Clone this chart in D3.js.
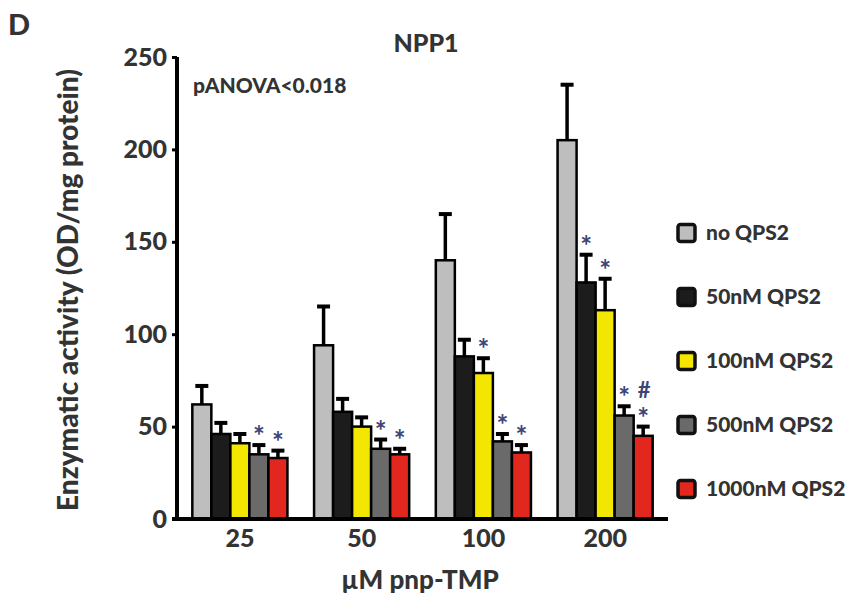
<!DOCTYPE html>
<html>
<head>
<meta charset="utf-8">
<script src="https://cdn.jsdelivr.net/npm/d3@7"></script>
<style>
  body { margin: 0; background: #fff; }
  svg text { font-family: Lato, "Open Sans", sans-serif; font-weight: 900; fill: #333; }
</style>
</head>
<body>
<svg id="chart" width="853" height="602"></svg>
<script>
// Substrate concentrations (µM pnp-TMP)
const groups = ["25", "50", "100", "200"];
// QPS2 treatments
const series = ["no QPS2", "50nM QPS2", "100nM QPS2", "500nM QPS2", "1000nM QPS2"];
const colors = ["#bebebe", "#1c1c1c", "#f3e600", "#6a6a6a", "#e2271f"];

// Mean enzymatic activity, one array per treatment (order follows groups)
const noQPS2     = [62, 94, 140, 205];
const qps50      = [46, 58, 88, 128];
const qps100     = [41, 50, 79, 113];
const qps500     = [35, 38, 42, 56];
const qps1000    = [33, 35, 36, 45];
// Upper error (SEM) for each bar
const errNo      = [10, 21, 25, 30];
const err50      = [6, 7, 9, 15];
const err100     = [5, 5, 8, 17];
const err500     = [5, 5, 4, 5];
const err1000    = [4, 3, 4, 5];

const means = [noQPS2, qps50, qps100, qps500, qps1000];
const errs  = [errNo, err50, err100, err500, err1000];

// Significance marks: [group index, series index, symbols from bottom up]
const marks = [
  [0, 3, ["*"]], [0, 4, ["*"]],
  [1, 3, ["*"]], [1, 4, ["*"]],
  [2, 2, ["*"]], [2, 3, ["*"]], [2, 4, ["*"]],
  [3, 1, ["*"]], [3, 2, ["*"]], [3, 3, ["*"]], [3, 4, ["*", "#"]]
];

const yTicks = [0, 50, 100, 150, 200, 250];

const svg = d3.select("#chart");

const y = d3.scaleLinear().domain([0, 250]).range([519, 57]);
const x0 = d3.scaleBand().domain(groups).range([179, 666]).padding(0);
const x1 = d3.scaleBand().domain(series).range([0, x0.bandwidth()])
  .paddingInner(0).paddingOuter(0.7);

const data = [];
groups.forEach((g, gi) => series.forEach((s, si) => {
  data.push({ g, s, gi, si, v: means[si][gi], e: errs[si][gi] });
}));

// Error bars (drawn first so bars cover the stem base)
const eb = svg.append("g");
data.forEach(d => {
  const cx = x0(d.g) + x1(d.s) + x1.bandwidth() / 2;
  eb.append("line").attr("x1", cx).attr("x2", cx)
    .attr("y1", y(d.v)).attr("y2", y(d.v + d.e))
    .attr("stroke", "#000").attr("stroke-width", 3.5);
  eb.append("line").attr("x1", cx - 6.5).attr("x2", cx + 6.5)
    .attr("y1", y(d.v + d.e)).attr("y2", y(d.v + d.e))
    .attr("stroke", "#000").attr("stroke-width", 4);
});

// Bars
svg.append("g").selectAll("rect").data(data).join("rect")
  .attr("x", d => x0(d.g) + x1(d.s))
  .attr("y", d => y(d.v))
  .attr("width", x1.bandwidth())
  .attr("height", d => y(0) - y(d.v))
  .attr("fill", d => colors[d.si])
  .attr("stroke", "#000")
  .attr("stroke-width", 2.5);

// Significance symbols
const sg = svg.append("g");
marks.forEach(([gi, si, syms]) => {
  const g = groups[gi], s = series[si];
  const cx = x0(g) + x1(s) + x1.bandwidth() / 2;
  const top = y(means[si][gi] + errs[si][gi]);
  syms.forEach((t, k) => {
    sg.append("text")
      .attr("x", cx + (t === "#" ? 1 : 0))
      .attr("y", top + 1 - k * 30)
      .attr("text-anchor", "middle")
      .style("font-size", t === "#" ? "22px" : "28px")
      .style("font-weight", "bold")
      .style("fill", "#3d4575")
      .text(t);
  });
});

// Y axis
const yAxis = d3.axisLeft(y).tickValues(yTicks).tickSize(5).tickPadding(5);
const ya = svg.append("g").attr("transform", "translate(177,0)").call(yAxis);
ya.select(".domain").attr("stroke", "#000").attr("stroke-width", 4)
  .attr("d", `M0,${y(250)}V${y(0) + 2}`);
ya.selectAll(".tick line").attr("stroke", "#000").attr("stroke-width", 3);
ya.selectAll(".tick text").style("font-size", "25px").style("font-family", "Lato, sans-serif")
  .style("font-weight", "900").attr("fill", "#333");

// X axis (labels only, no ticks)
const xAxis = d3.axisBottom(x0).tickSize(0).tickPadding(10);
const xa = svg.append("g").attr("transform", `translate(0,${y(0)})`).call(xAxis);
xa.select(".domain").attr("stroke", "#000").attr("stroke-width", 4)
  .attr("d", "M172,0H668");
xa.selectAll(".tick text").style("font-size", "25px").style("font-family", "Lato, sans-serif")
  .style("font-weight", "900").attr("fill", "#333");

// Titles
svg.append("text").attr("x", 426).attr("y", 52).attr("text-anchor", "middle")
  .style("font-size", "25px").text("NPP1");
svg.append("text").attr("x", 8).attr("y", 35).style("font-size", "29px").text("D");
svg.append("text").attr("x", 193).attr("y", 93).style("font-size", "21px").text("pANOVA<0.018");
svg.append("text").attr("x", 420).attr("y", 589).attr("text-anchor", "middle")
  .style("font-size", "26px").text("µM pnp-TMP");
svg.append("text").attr("transform", "translate(78,290) rotate(-90)")
  .attr("text-anchor", "middle").style("font-size", "28px")
  .text("Enzymatic activity (OD/mg protein)");

// Legend
const lg = svg.append("g");
series.forEach((s, i) => {
  const cy = 233 + i * 64;
  lg.append("rect").attr("x", 678).attr("y", cy - 8.5).attr("width", 17).attr("height", 17)
    .attr("rx", 2.5).attr("fill", colors[i]).attr("stroke", "#111").attr("stroke-width", 3.5);
  lg.append("text").attr("x", 706).attr("y", cy + 7).style("font-size", "21px").text(s);
});
</script>
</body>
</html>
